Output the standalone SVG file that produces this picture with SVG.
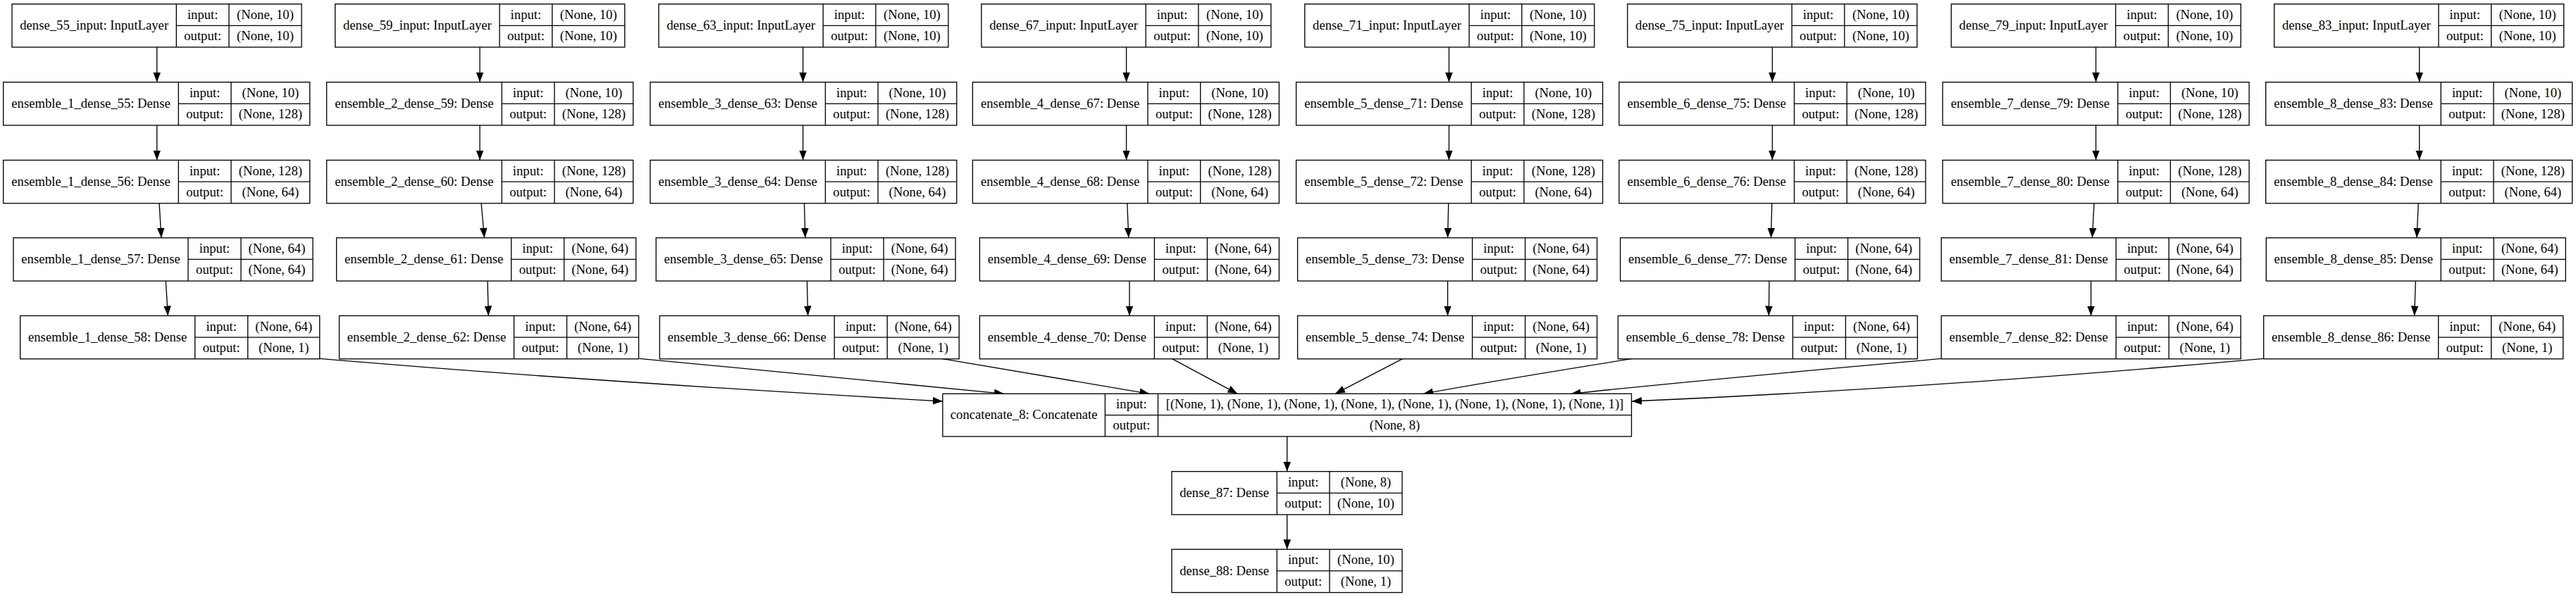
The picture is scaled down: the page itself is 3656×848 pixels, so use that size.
<svg xmlns="http://www.w3.org/2000/svg" xmlns:xlink="http://www.w3.org/1999/xlink" width="3656" height="848" viewBox="0 0 3656 848">
<style>
.box{fill:#fff;stroke:#000;stroke-width:1.33}
.div{fill:none;stroke:#000;stroke-width:1.33}
text{font-family:"Liberation Serif","Times New Roman",serif;font-size:18.67px;fill:#000;text-anchor:middle}
.edge{fill:none;stroke:#000;stroke-width:1.33;marker-end:url(#arrow)}
</style>
<defs>
<marker id="arrow" markerUnits="userSpaceOnUse" viewBox="0 0 14 10.7" markerWidth="14" markerHeight="10.7" refX="14" refY="5.35" orient="auto">
<path d="M0,0L14,5.35L0,10.7z" fill="#000"/>
</marker>
<g id="s-in"><rect class="box" width="411" height="61.3"/><path class="div" d="M233.3,0V61.3M308,0V61.3M233.3,30.65H411"/></g>
<g id="s-d1"><rect class="box" width="435" height="61.3"/><path class="div" d="M248.6,0V61.3M323.3,0V61.3M248.6,30.65H435"/></g>
<g id="s-d3"><rect class="box" width="425" height="61.3"/><path class="div" d="M248,0V61.3M323,0V61.3M248,30.65H425"/></g>
<g id="s-sm"><rect class="box" width="327" height="61.3"/><path class="div" d="M149.3,0V61.3M224,0V61.3M149.3,30.65H327"/></g>
</defs>
<rect width="3656" height="848" fill="#fff"/>

<g id="connectors">
<path class="edge" d="M222.7,67V116.7"/><path class="edge" d="M222.7,178V227.5"/><path class="edge" d="M226,288.8L229,337.8"/><path class="edge" d="M235.3,399.1L238.3,448.5"/>
<path class="edge" d="M681,67V116.7"/><path class="edge" d="M681,178V227.5"/><path class="edge" d="M683,288.8L687.4,337.8"/><path class="edge" d="M692,399.1L693.2,448.5"/>
<path class="edge" d="M1139.6,67V116.7"/><path class="edge" d="M1139.6,178V227.5"/><path class="edge" d="M1141.5,288.8L1142.8,337.8"/><path class="edge" d="M1145.4,399.1L1146.6,448.5"/>
<path class="edge" d="M1598.6,67V116.7"/><path class="edge" d="M1598.6,178V227.5"/><path class="edge" d="M1599.8,288.8L1601.8,337.8"/><path class="edge" d="M1603,399.1L1603,448.5"/>
<path class="edge" d="M2056.5,67V116.7"/><path class="edge" d="M2056.5,178V227.5"/><path class="edge" d="M2055.8,288.8L2054.6,337.8"/><path class="edge" d="M2054.6,399.1L2054.6,448.5"/>
<path class="edge" d="M2515.4,67V116.7"/><path class="edge" d="M2515.4,178V227.5"/><path class="edge" d="M2514.8,288.8L2513.5,337.8"/><path class="edge" d="M2511,399.1L2510.3,448.5"/>
<path class="edge" d="M2974.6,67V116.7"/><path class="edge" d="M2974.6,178V227.5"/><path class="edge" d="M2972,288.8L2969.5,337.8"/><path class="edge" d="M2967.6,399.1L2967.6,448.5"/>
<path class="edge" d="M3433.7,67V116.7"/><path class="edge" d="M3433.7,178V227.5"/><path class="edge" d="M3432.3,288.8L3430,337.8"/><path class="edge" d="M3428.3,399.1L3426.7,448.5"/>
<path class="edge" d="M453.7,509.3C753.7,535.3 1037.9,553 1337.9,570"/>
<path class="edge" d="M907.5,509.3C1080,525.5 1250,542.5 1425,559.3"/>
<path class="edge" d="M1336,509.3C1440,527 1540,543 1631.3,559.3"/>
<path class="edge" d="M1663,509.3L1756.4,559.3"/>
<path class="edge" d="M1991,509.3L1895,559.3"/>
<path class="edge" d="M2318,509.3C2220,525 2120,541 2020,559.3"/>
<path class="edge" d="M2755.2,509.3C2580,525.5 2400,541 2229.7,559.3"/>
<path class="edge" d="M3212.7,509.3C2912.7,536.3 2616,557 2316,570"/>
<path class="edge" d="M1826.7,620V669.7"/>
<path class="edge" d="M1826.7,731V780.3"/>
</g>

<!-- column 1 -->
<g id="dense_55_input" transform="translate(17,5.7)"><use xlink:href="#s-in"/><text x="116.7" y="36.5">dense_55_input: InputLayer</text><text x="270.7" y="21">input:</text><text x="270.7" y="51.5">output:</text><text x="359.5" y="21">(None, 10)</text><text x="359.5" y="51.5">(None, 10)</text></g>
<g id="ensemble_1_dense_55" transform="translate(4.7,116.7)"><use xlink:href="#s-d1"/><text x="124.3" y="36.5">ensemble_1_dense_55: Dense</text><text x="286" y="21">input:</text><text x="286" y="51.5">output:</text><text x="379.2" y="21">(None, 10)</text><text x="379.2" y="51.5">(None, 128)</text></g>
<g id="ensemble_1_dense_56" transform="translate(4.7,227.5)"><use xlink:href="#s-d1"/><text x="124.3" y="36.5">ensemble_1_dense_56: Dense</text><text x="286" y="21">input:</text><text x="286" y="51.5">output:</text><text x="379.2" y="21">(None, 128)</text><text x="379.2" y="51.5">(None, 64)</text></g>
<g id="ensemble_1_dense_57" transform="translate(19,337.8)"><use xlink:href="#s-d3"/><text x="124" y="36.5">ensemble_1_dense_57: Dense</text><text x="285.5" y="21">input:</text><text x="285.5" y="51.5">output:</text><text x="374" y="21">(None, 64)</text><text x="374" y="51.5">(None, 64)</text></g>
<g id="ensemble_1_dense_58" transform="translate(28.7,448.5)"><use xlink:href="#s-d3"/><text x="124" y="36.5">ensemble_1_dense_58: Dense</text><text x="285.5" y="21">input:</text><text x="285.5" y="51.5">output:</text><text x="374" y="21">(None, 64)</text><text x="374" y="51.5">(None, 1)</text></g>

<!-- column 2 -->
<g id="dense_59_input" transform="translate(475.7,5.7)"><use xlink:href="#s-in"/><text x="116.7" y="36.5">dense_59_input: InputLayer</text><text x="270.7" y="21">input:</text><text x="270.7" y="51.5">output:</text><text x="359.5" y="21">(None, 10)</text><text x="359.5" y="51.5">(None, 10)</text></g>
<g id="ensemble_2_dense_59" transform="translate(463.6,116.7)"><use xlink:href="#s-d1"/><text x="124.3" y="36.5">ensemble_2_dense_59: Dense</text><text x="286" y="21">input:</text><text x="286" y="51.5">output:</text><text x="379.2" y="21">(None, 10)</text><text x="379.2" y="51.5">(None, 128)</text></g>
<g id="ensemble_2_dense_60" transform="translate(463.6,227.5)"><use xlink:href="#s-d1"/><text x="124.3" y="36.5">ensemble_2_dense_60: Dense</text><text x="286" y="21">input:</text><text x="286" y="51.5">output:</text><text x="379.2" y="21">(None, 128)</text><text x="379.2" y="51.5">(None, 64)</text></g>
<g id="ensemble_2_dense_61" transform="translate(477.6,337.8)"><use xlink:href="#s-d3"/><text x="124" y="36.5">ensemble_2_dense_61: Dense</text><text x="285.5" y="21">input:</text><text x="285.5" y="51.5">output:</text><text x="374" y="21">(None, 64)</text><text x="374" y="51.5">(None, 64)</text></g>
<g id="ensemble_2_dense_62" transform="translate(481.5,448.5)"><use xlink:href="#s-d3"/><text x="124" y="36.5">ensemble_2_dense_62: Dense</text><text x="285.5" y="21">input:</text><text x="285.5" y="51.5">output:</text><text x="374" y="21">(None, 64)</text><text x="374" y="51.5">(None, 1)</text></g>

<!-- column 3 -->
<g id="dense_63_input" transform="translate(934.9,5.7)"><use xlink:href="#s-in"/><text x="116.7" y="36.5">dense_63_input: InputLayer</text><text x="270.7" y="21">input:</text><text x="270.7" y="51.5">output:</text><text x="359.5" y="21">(None, 10)</text><text x="359.5" y="51.5">(None, 10)</text></g>
<g id="ensemble_3_dense_63" transform="translate(922.8,116.7)"><use xlink:href="#s-d1"/><text x="124.3" y="36.5">ensemble_3_dense_63: Dense</text><text x="286" y="21">input:</text><text x="286" y="51.5">output:</text><text x="379.2" y="21">(None, 10)</text><text x="379.2" y="51.5">(None, 128)</text></g>
<g id="ensemble_3_dense_64" transform="translate(922.8,227.5)"><use xlink:href="#s-d1"/><text x="124.3" y="36.5">ensemble_3_dense_64: Dense</text><text x="286" y="21">input:</text><text x="286" y="51.5">output:</text><text x="379.2" y="21">(None, 128)</text><text x="379.2" y="51.5">(None, 64)</text></g>
<g id="ensemble_3_dense_65" transform="translate(931.1,337.8)"><use xlink:href="#s-d3"/><text x="124" y="36.5">ensemble_3_dense_65: Dense</text><text x="285.5" y="21">input:</text><text x="285.5" y="51.5">output:</text><text x="374" y="21">(None, 64)</text><text x="374" y="51.5">(None, 64)</text></g>
<g id="ensemble_3_dense_66" transform="translate(936.2,448.5)"><use xlink:href="#s-d3"/><text x="124" y="36.5">ensemble_3_dense_66: Dense</text><text x="285.5" y="21">input:</text><text x="285.5" y="51.5">output:</text><text x="374" y="21">(None, 64)</text><text x="374" y="51.5">(None, 1)</text></g>

<!-- column 4 -->
<g id="dense_67_input" transform="translate(1392.9,5.7)"><use xlink:href="#s-in"/><text x="116.7" y="36.5">dense_67_input: InputLayer</text><text x="270.7" y="21">input:</text><text x="270.7" y="51.5">output:</text><text x="359.5" y="21">(None, 10)</text><text x="359.5" y="51.5">(None, 10)</text></g>
<g id="ensemble_4_dense_67" transform="translate(1380.4,116.7)"><use xlink:href="#s-d1"/><text x="124.3" y="36.5">ensemble_4_dense_67: Dense</text><text x="286" y="21">input:</text><text x="286" y="51.5">output:</text><text x="379.2" y="21">(None, 10)</text><text x="379.2" y="51.5">(None, 128)</text></g>
<g id="ensemble_4_dense_68" transform="translate(1380.4,227.5)"><use xlink:href="#s-d1"/><text x="124.3" y="36.5">ensemble_4_dense_68: Dense</text><text x="286" y="21">input:</text><text x="286" y="51.5">output:</text><text x="379.2" y="21">(None, 128)</text><text x="379.2" y="51.5">(None, 64)</text></g>
<g id="ensemble_4_dense_69" transform="translate(1390.4,337.8)"><use xlink:href="#s-d3"/><text x="124" y="36.5">ensemble_4_dense_69: Dense</text><text x="285.5" y="21">input:</text><text x="285.5" y="51.5">output:</text><text x="374" y="21">(None, 64)</text><text x="374" y="51.5">(None, 64)</text></g>
<g id="ensemble_4_dense_70" transform="translate(1390.4,448.5)"><use xlink:href="#s-d3"/><text x="124" y="36.5">ensemble_4_dense_70: Dense</text><text x="285.5" y="21">input:</text><text x="285.5" y="51.5">output:</text><text x="374" y="21">(None, 64)</text><text x="374" y="51.5">(None, 1)</text></g>

<!-- column 5 -->
<g id="dense_71_input" transform="translate(1851.8,5.7)"><use xlink:href="#s-in"/><text x="116.7" y="36.5">dense_71_input: InputLayer</text><text x="270.7" y="21">input:</text><text x="270.7" y="51.5">output:</text><text x="359.5" y="21">(None, 10)</text><text x="359.5" y="51.5">(None, 10)</text></g>
<g id="ensemble_5_dense_71" transform="translate(1839.6,116.7)"><use xlink:href="#s-d1"/><text x="124.3" y="36.5">ensemble_5_dense_71: Dense</text><text x="286" y="21">input:</text><text x="286" y="51.5">output:</text><text x="379.2" y="21">(None, 10)</text><text x="379.2" y="51.5">(None, 128)</text></g>
<g id="ensemble_5_dense_72" transform="translate(1839.6,227.5)"><use xlink:href="#s-d1"/><text x="124.3" y="36.5">ensemble_5_dense_72: Dense</text><text x="286" y="21">input:</text><text x="286" y="51.5">output:</text><text x="379.2" y="21">(None, 128)</text><text x="379.2" y="51.5">(None, 64)</text></g>
<g id="ensemble_5_dense_73" transform="translate(1841.6,337.8)"><use xlink:href="#s-d3"/><text x="124" y="36.5">ensemble_5_dense_73: Dense</text><text x="285.5" y="21">input:</text><text x="285.5" y="51.5">output:</text><text x="374" y="21">(None, 64)</text><text x="374" y="51.5">(None, 64)</text></g>
<g id="ensemble_5_dense_74" transform="translate(1841.6,448.5)"><use xlink:href="#s-d3"/><text x="124" y="36.5">ensemble_5_dense_74: Dense</text><text x="285.5" y="21">input:</text><text x="285.5" y="51.5">output:</text><text x="374" y="21">(None, 64)</text><text x="374" y="51.5">(None, 1)</text></g>

<!-- column 6 -->
<g id="dense_75_input" transform="translate(2309.8,5.7)"><use xlink:href="#s-in"/><text x="116.7" y="36.5">dense_75_input: InputLayer</text><text x="270.7" y="21">input:</text><text x="270.7" y="51.5">output:</text><text x="359.5" y="21">(None, 10)</text><text x="359.5" y="51.5">(None, 10)</text></g>
<g id="ensemble_6_dense_75" transform="translate(2297.9,116.7)"><use xlink:href="#s-d1"/><text x="124.3" y="36.5">ensemble_6_dense_75: Dense</text><text x="286" y="21">input:</text><text x="286" y="51.5">output:</text><text x="379.2" y="21">(None, 10)</text><text x="379.2" y="51.5">(None, 128)</text></g>
<g id="ensemble_6_dense_76" transform="translate(2297.9,227.5)"><use xlink:href="#s-d1"/><text x="124.3" y="36.5">ensemble_6_dense_76: Dense</text><text x="286" y="21">input:</text><text x="286" y="51.5">output:</text><text x="379.2" y="21">(None, 128)</text><text x="379.2" y="51.5">(None, 64)</text></g>
<g id="ensemble_6_dense_77" transform="translate(2299.6,337.8)"><use xlink:href="#s-d3"/><text x="124" y="36.5">ensemble_6_dense_77: Dense</text><text x="285.5" y="21">input:</text><text x="285.5" y="51.5">output:</text><text x="374" y="21">(None, 64)</text><text x="374" y="51.5">(None, 64)</text></g>
<g id="ensemble_6_dense_78" transform="translate(2296.4,448.5)"><use xlink:href="#s-d3"/><text x="124" y="36.5">ensemble_6_dense_78: Dense</text><text x="285.5" y="21">input:</text><text x="285.5" y="51.5">output:</text><text x="374" y="21">(None, 64)</text><text x="374" y="51.5">(None, 1)</text></g>

<!-- column 7 -->
<g id="dense_79_input" transform="translate(2769.3,5.7)"><use xlink:href="#s-in"/><text x="116.7" y="36.5">dense_79_input: InputLayer</text><text x="270.7" y="21">input:</text><text x="270.7" y="51.5">output:</text><text x="359.5" y="21">(None, 10)</text><text x="359.5" y="51.5">(None, 10)</text></g>
<g id="ensemble_7_dense_79" transform="translate(2757.1,116.7)"><use xlink:href="#s-d1"/><text x="124.3" y="36.5">ensemble_7_dense_79: Dense</text><text x="286" y="21">input:</text><text x="286" y="51.5">output:</text><text x="379.2" y="21">(None, 10)</text><text x="379.2" y="51.5">(None, 128)</text></g>
<g id="ensemble_7_dense_80" transform="translate(2757.1,227.5)"><use xlink:href="#s-d1"/><text x="124.3" y="36.5">ensemble_7_dense_80: Dense</text><text x="286" y="21">input:</text><text x="286" y="51.5">output:</text><text x="379.2" y="21">(None, 128)</text><text x="379.2" y="51.5">(None, 64)</text></g>
<g id="ensemble_7_dense_81" transform="translate(2755.2,337.8)"><use xlink:href="#s-d3"/><text x="124" y="36.5">ensemble_7_dense_81: Dense</text><text x="285.5" y="21">input:</text><text x="285.5" y="51.5">output:</text><text x="374" y="21">(None, 64)</text><text x="374" y="51.5">(None, 64)</text></g>
<g id="ensemble_7_dense_82" transform="translate(2755.2,448.5)"><use xlink:href="#s-d3"/><text x="124" y="36.5">ensemble_7_dense_82: Dense</text><text x="285.5" y="21">input:</text><text x="285.5" y="51.5">output:</text><text x="374" y="21">(None, 64)</text><text x="374" y="51.5">(None, 1)</text></g>

<!-- column 8 -->
<g id="dense_83_input" transform="translate(3227.7,5.7)"><use xlink:href="#s-in"/><text x="116.7" y="36.5">dense_83_input: InputLayer</text><text x="270.7" y="21">input:</text><text x="270.7" y="51.5">output:</text><text x="359.5" y="21">(None, 10)</text><text x="359.5" y="51.5">(None, 10)</text></g>
<g id="ensemble_8_dense_83" transform="translate(3215.7,116.7)"><use xlink:href="#s-d1"/><text x="124.3" y="36.5">ensemble_8_dense_83: Dense</text><text x="286" y="21">input:</text><text x="286" y="51.5">output:</text><text x="379.2" y="21">(None, 10)</text><text x="379.2" y="51.5">(None, 128)</text></g>
<g id="ensemble_8_dense_84" transform="translate(3215.7,227.5)"><use xlink:href="#s-d1"/><text x="124.3" y="36.5">ensemble_8_dense_84: Dense</text><text x="286" y="21">input:</text><text x="286" y="51.5">output:</text><text x="379.2" y="21">(None, 128)</text><text x="379.2" y="51.5">(None, 64)</text></g>
<g id="ensemble_8_dense_85" transform="translate(3216.3,337.8)"><use xlink:href="#s-d3"/><text x="124" y="36.5">ensemble_8_dense_85: Dense</text><text x="285.5" y="21">input:</text><text x="285.5" y="51.5">output:</text><text x="374" y="21">(None, 64)</text><text x="374" y="51.5">(None, 64)</text></g>
<g id="ensemble_8_dense_86" transform="translate(3212.7,448.5)"><use xlink:href="#s-d3"/><text x="124" y="36.5">ensemble_8_dense_86: Dense</text><text x="285.5" y="21">input:</text><text x="285.5" y="51.5">output:</text><text x="374" y="21">(None, 64)</text><text x="374" y="51.5">(None, 1)</text></g>

<!-- merge -->
<g id="concatenate_8" transform="translate(1337.9,559.3)"><rect class="box" width="977.6" height="60.7"/><path class="div" d="M230.5,0V60.7M305.6,0V60.7M230.5,30.35H977.6"/><text x="115.3" y="36.2">concatenate_8: Concatenate</text><text x="268" y="21">input:</text><text x="268" y="51.2">output:</text><text x="641.6" y="21">[(None, 1), (None, 1), (None, 1), (None, 1), (None, 1), (None, 1), (None, 1), (None, 1)]</text><text x="641.6" y="51.2">(None, 8)</text></g>
<g id="dense_87" transform="translate(1663,669.7)"><use xlink:href="#s-sm"/><text x="74.7" y="36.5">dense_87: Dense</text><text x="186.7" y="21">input:</text><text x="186.7" y="51.5">output:</text><text x="275.5" y="21">(None, 8)</text><text x="275.5" y="51.5">(None, 10)</text></g>
<g id="dense_88" transform="translate(1663,780.3)"><use xlink:href="#s-sm"/><text x="74.7" y="36.5">dense_88: Dense</text><text x="186.7" y="21">input:</text><text x="186.7" y="51.5">output:</text><text x="275.5" y="21">(None, 10)</text><text x="275.5" y="51.5">(None, 1)</text></g>
</svg>
